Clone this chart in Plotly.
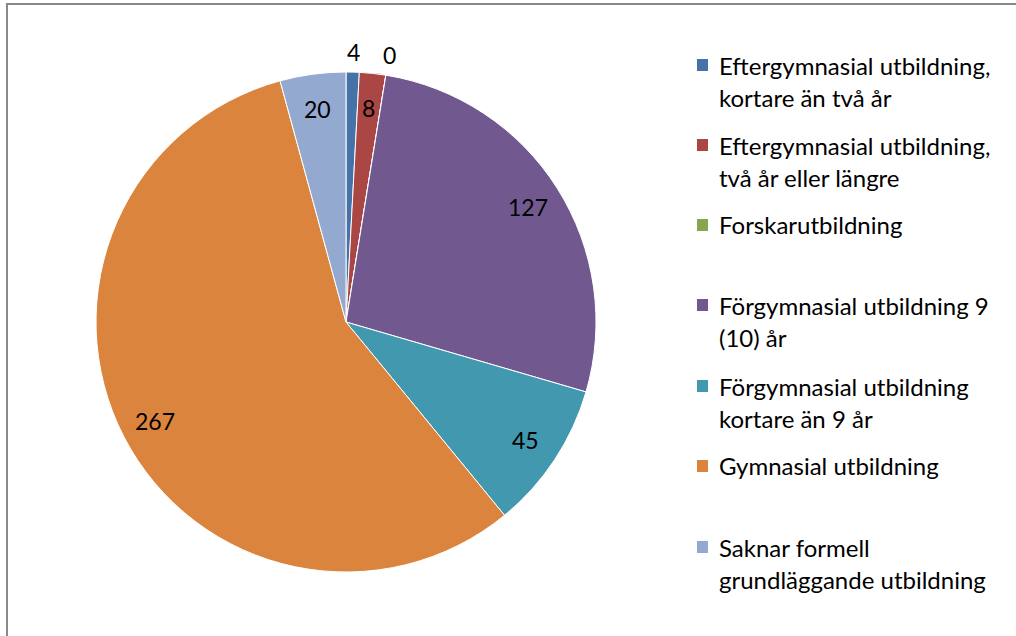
import math
import plotly.graph_objects as go

categories = [
    "Eftergymnasial utbildning,<br>kortare än två år",
    "Eftergymnasial utbildning,<br>två år eller längre",
    "Forskarutbildning",
    "Förgymnasial utbildning 9<br>(10) år",
    "Förgymnasial utbildning<br>kortare än 9 år",
    "Gymnasial utbildning",
    "Saknar formell<br>grundläggande utbildning",
]
values = [4, 8, 0, 127, 45, 267, 20]
colors = ["#4572A7", "#AA4643", "#89A54E", "#71588F", "#4198AF", "#DB843D", "#93A9CF"]
label_outside = [True, False, True, False, False, False, False]

W, H = 1016, 636
CX, CY, R = 346, 322, 250
FONT = "Lato, 'Open Sans', sans-serif"
LEG_SIZE = 24
LBL_SIZE = 23

fig = go.Figure()
fig.add_trace(go.Pie(
    labels=[c.replace("<br>", " ") for c in categories],
    values=values,
    sort=False,
    direction="clockwise",
    rotation=0,
    marker=dict(colors=colors, line=dict(color="white", width=1)),
    textinfo="none",
    hoverinfo="label+value",
    showlegend=False,
    domain=dict(x=[(CX - R) / W, (CX + R) / W], y=[1 - (CY + R) / H, 1 - (CY - R) / H]),
))

annotations = []
total = sum(values)
cum = 0
for v, outside in zip(values, label_outside):
    mid = (cum + v / 2) / total * 2 * math.pi
    if v == 0:
        mid = cum / total * 2 * math.pi
    cum += v
    r = 270 if outside else 0.86 * R
    px = CX + r * math.sin(mid)
    py = CY - r * math.cos(mid)
    annotations.append(dict(
        x=px / W, y=1 - py / H, xref="paper", yref="paper", text=str(v),
        showarrow=False, xanchor="center", yanchor="middle",
        font=dict(family=FONT, size=LBL_SIZE, color="black"),
    ))

# manual legend
item_y = [65, 145, 225, 305, 386, 466, 547]
line_gap = 32
shapes = []
for cat, col, y0 in zip(categories, colors, item_y):
    shapes.append(dict(type="rect", xref="paper", yref="paper",
                       x0=697 / W, x1=708 / W, y0=1 - (y0 + 6) / H, y1=1 - (y0 - 6) / H,
                       fillcolor=col, line=dict(width=0)))
    for i, line in enumerate(cat.split("<br>")):
        yy = y0 + i * line_gap
        annotations.append(dict(
            x=717 / W, y=1 - yy / H, xref="paper", yref="paper", text=line,
            showarrow=False, xanchor="left", yanchor="middle",
            font=dict(family=FONT, size=LEG_SIZE, color="black"),
        ))

# outer chart border
shapes.append(dict(type="rect", xref="paper", yref="paper",
                   x0=7 / W, y1=1 - 4 / H, x1=1.02, y0=-0.02,
                   line=dict(color="#898989", width=2), fillcolor="rgba(0,0,0,0)"))

fig.update_layout(
    width=W, height=H,
    margin=dict(l=0, r=0, t=0, b=0),
    paper_bgcolor="white",
    plot_bgcolor="white",
    annotations=annotations,
    shapes=shapes,
)
fig.write_html(
    "out.html",
    config={"displayModeBar": False},
    post_script="document.body.style.margin='0';document.body.style.overflow='hidden';",
)
